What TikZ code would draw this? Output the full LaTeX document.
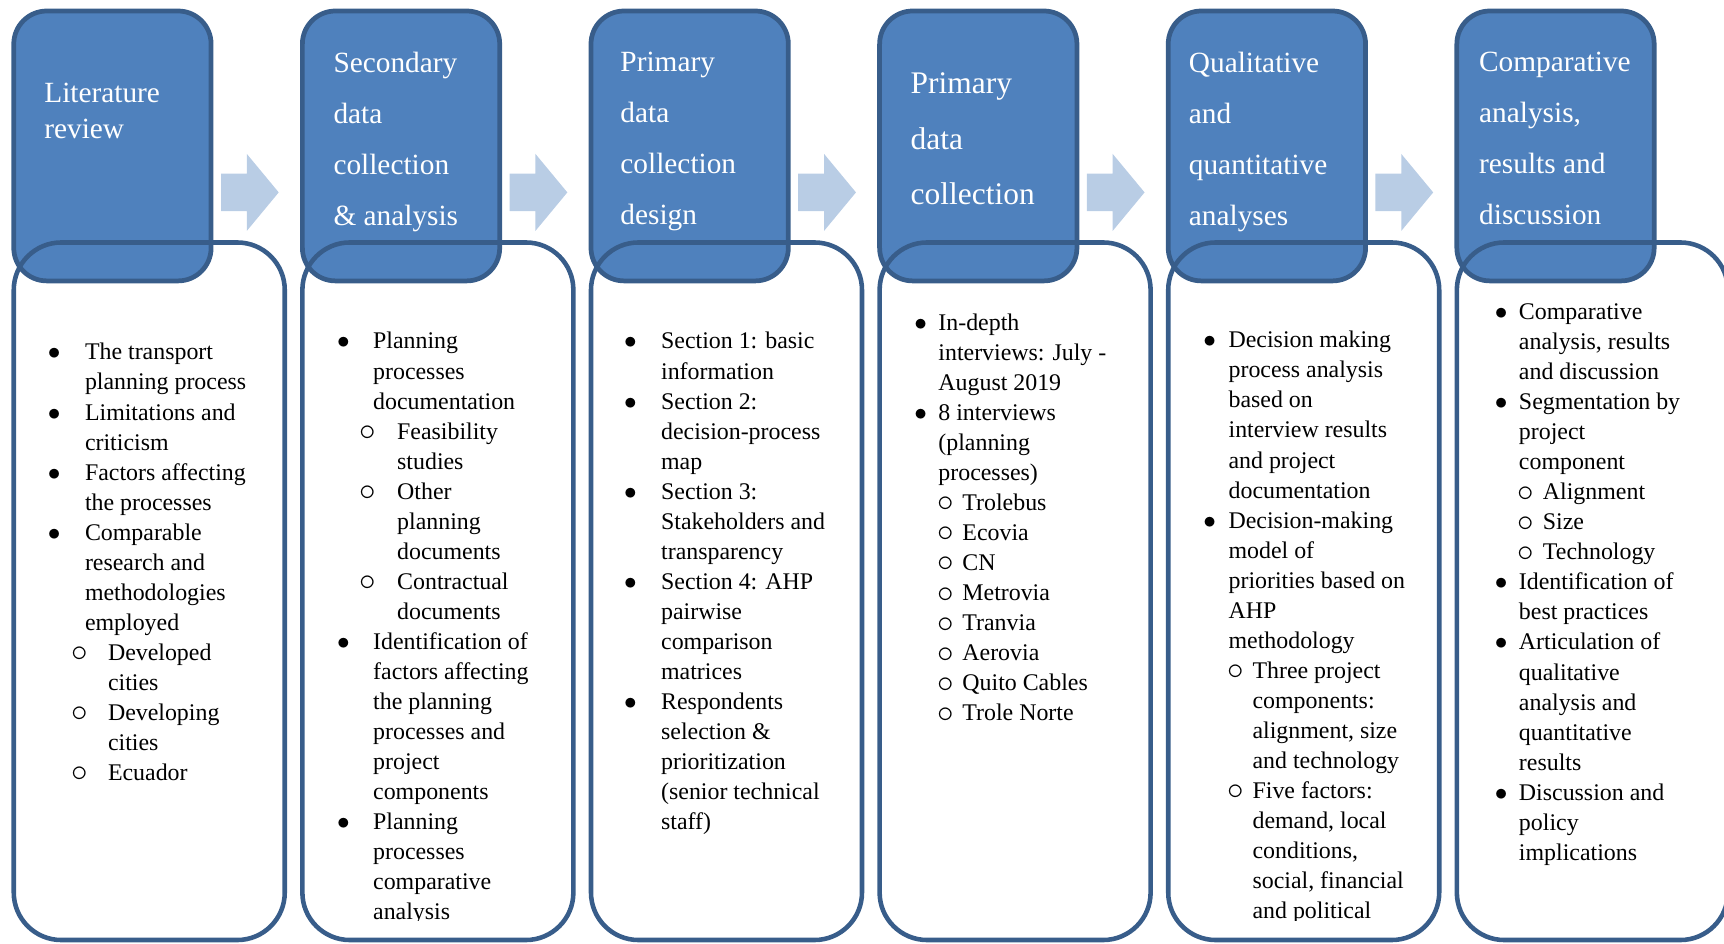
\documentclass[tikz,border=0pt]{standalone}
\usepackage{fontspec}
\setmainfont{Liberation Serif}
\usepackage{graphicx}
\usepackage{tikz}
\usetikzlibrary{positioning}
\definecolor{hdrfill}{RGB}{79,129,189}
\definecolor{hdrline}{RGB}{56,93,138}
\definecolor{arrowfill}{RGB}{185,205,229}

\newlength\bulw
\newlength\subw
\newlength\subtw
\newcommand\bitem{\makebox[\bulw][l]{\makebox[0.35em][c]{$\bullet$}}}
\newcommand\bcont{\hspace*{\bulw}}
\newcommand\sitem{\hspace*{\subw}\makebox[\subtw][l]{%
  \makebox[0.5em][c]{\raisebox{-0.06em}{\scalebox{1.3}{$\circ$}}}}}
\newcommand\scont{\hspace*{\subw}\hspace*{\subtw}}
\newcommand\bodyfont{\fontsize{13.6pt}{17.1pt}\selectfont}

\begin{document}
\begin{tikzpicture}[
  x=0.022cm, y=-0.022cm,
  % -- step boxes -------------------------------------------
  hdr/.style={
    rectangle, rounded corners=0.66cm,
    minimum width=3.949cm, minimum height=5.401cm,
    fill=hdrfill, draw=hdrline, line width=2.7pt
  },
  panel/.style={
    rectangle, rounded corners=0.95cm,
    minimum width=5.423cm, minimum height=13.959cm,
    draw=hdrline, line width=2.6pt
  },
  % -- texts ------------------------------------------------
  hdrtxt/.style={anchor=north west, inner sep=0pt, align=left,
    text=white},
  body/.style={anchor=north west, inner sep=0pt, align=left,
    font=\bodyfont},
  indents/.code args={#1/#2/#3}{%
    \setlength\bulw{#1}\setlength\subw{#2}\setlength\subtw{#3}},
]
\useasboundingbox (0,0) rectangle (1568,858);

%% -- HEADER BOXES ---------------------------------------------
\foreach \i in {1,...,6}{
  \pgfmathsetmacro\xl{12.5+262.5*(\i-1)}
  \node[hdr] (hdr\i) at (\xl+89.75,132.75) {};
}

%% -- BLOCK ARROWS ---------------------------------------------
\foreach \i in {1,...,5}{
  \pgfmathsetmacro\xl{12.5+262.5*(\i-1)}
  \fill[arrowfill] (\xl+188.5,158) -- (\xl+212,158) -- (\xl+212,140)
    -- (\xl+241,175) -- (\xl+212,210) -- (\xl+212,192)
    -- (\xl+188.5,192) -- cycle;
}

%% -- CONTENT PANELS -------------------------------------------
\foreach \i in {1,...,6}{
  \pgfmathsetmacro\xl{12.5+262.5*(\i-1)}
  \node[panel] (box\i) at (\xl+123.25,537.75) {};
}

%% -- HEADER TEXTS ---------------------------------------------
\node[hdrtxt, font=\fontsize{16.7pt}{20.7pt}\selectfont] (t1) at (40,75)
  {Literature\\review};
\node[hdrtxt, font=\fontsize{16.7pt}{29.1pt}\selectfont] (t2) at (303,47)
  {Secondary\\data\\collection\\\& analysis};
\node[hdrtxt, font=\fontsize{16.7pt}{29.1pt}\selectfont] (t3) at (564,47)
  {Primary\\data\\collection\\design};
\node[hdrtxt, font=\fontsize{17.9pt}{31.5pt}\selectfont] (t4) at (828,66)
  {Primary\\data\\collection};
\node[hdrtxt, font=\fontsize{16.7pt}{29.1pt}\selectfont] (t5) at (1081,47)
  {Qualitative\\and\\quantitative\\analyses};
\node[hdrtxt, font=\fontsize{16.7pt}{29.1pt}\selectfont] (t6) at (1345,47)
  {Comparative\\analysis,\\results and\\discussion};

%% -- PANEL LISTS ----------------------------------------------
\begin{scope}
\clip (0,0) rectangle (1568,837);
% literature review
\node[body, indents=0.70cm/0.47cm/0.69cm] (l1) at (45.2,312) {%
  \bitem The transport\\ \bcont planning process\\
  \bitem Limitations and\\ \bcont criticism\\
  \bitem Factors affecting\\ \bcont the processes\\
  \bitem Comparable\\ \bcont research and\\ \bcont methodologies\\
  \bcont employed\\
  \sitem Developed\\ \scont cities\\
  \sitem Developing\\ \scont cities\\
  \sitem Ecuador};
% secondary data
\node[body, indents=0.68cm/0.45cm/0.71cm] (l2) at (308.2,302) {%
  \bitem Planning\\ \bcont processes\\ \bcont documentation\\
  \sitem Feasibility\\ \scont studies\\
  \sitem Other\\ \scont planning\\ \scont documents\\
  \sitem Contractual\\ \scont documents\\
  \bitem Identification of\\ \bcont factors affecting\\
  \bcont the planning\\ \bcont processes and\\ \bcont project\\
  \bcont components\\
  \bitem Planning\\ \bcont processes\\ \bcont comparative\\
  \bcont analysis};
% primary data design
\node[body, indents=0.70cm/0.47cm/0.69cm] (l3) at (569.2,302) {%
  \bitem Section 1: basic\\ \bcont information\\
  \bitem Section 2:\\ \bcont decision-process\\ \bcont map\\
  \bitem Section 3:\\ \bcont Stakeholders and\\ \bcont transparency\\
  \bitem Section 4: AHP\\ \bcont pairwise\\ \bcont comparison\\
  \bcont matrices\\
  \bitem Respondents\\ \bcont selection \&\\ \bcont prioritization\\
  \bcont (senior technical\\ \bcont staff)};
% primary data collection
\node[body, indents=0.44cm/0.47cm/0.45cm] (l4) at (833.2,285) {%
  \bitem In-depth\\ \bcont interviews: July -\\ \bcont August 2019\\
  \bitem 8 interviews\\ \bcont (planning\\ \bcont processes)\\
  \sitem Trolebus\\ \sitem Ecovia\\ \sitem CN\\ \sitem Metrovia\\
  \sitem Tranvia\\ \sitem Aerovia\\ \sitem Quito Cables\\
  \sitem Trole Norte};
% qualitative and quantitative
\node[body, indents=0.46cm/0.49cm/0.45cm] (l5) at (1096.2,301) {%
  \bitem Decision making\\ \bcont process analysis\\ \bcont based on\\
  \bcont interview results\\ \bcont and project\\ \bcont documentation\\
  \bitem Decision-making\\ \bcont model of\\ \bcont priorities based on\\
  \bcont AHP\\ \bcont methodology\\
  \sitem Three project\\ \scont components:\\ \scont alignment, size\\
  \scont and technology\\
  \sitem Five factors:\\ \scont demand, local\\ \scont conditions,\\
  \scont social, financial\\ \scont and political};
% comparative analysis
\node[body, indents=0.44cm/0.45cm/0.47cm] (l6) at (1361.2,276) {%
  \bitem Comparative\\ \bcont analysis, results\\ \bcont and discussion\\
  \bitem Segmentation by\\ \bcont project\\ \bcont component\\
  \sitem Alignment\\ \sitem Size\\ \sitem Technology\\
  \bitem Identification of\\ \bcont best practices\\
  \bitem Articulation of\\ \bcont qualitative\\ \bcont analysis and\\
  \bcont quantitative\\ \bcont results\\
  \bitem Discussion and\\ \bcont policy\\ \bcont implications};
\end{scope}

\end{tikzpicture}
\end{document}
